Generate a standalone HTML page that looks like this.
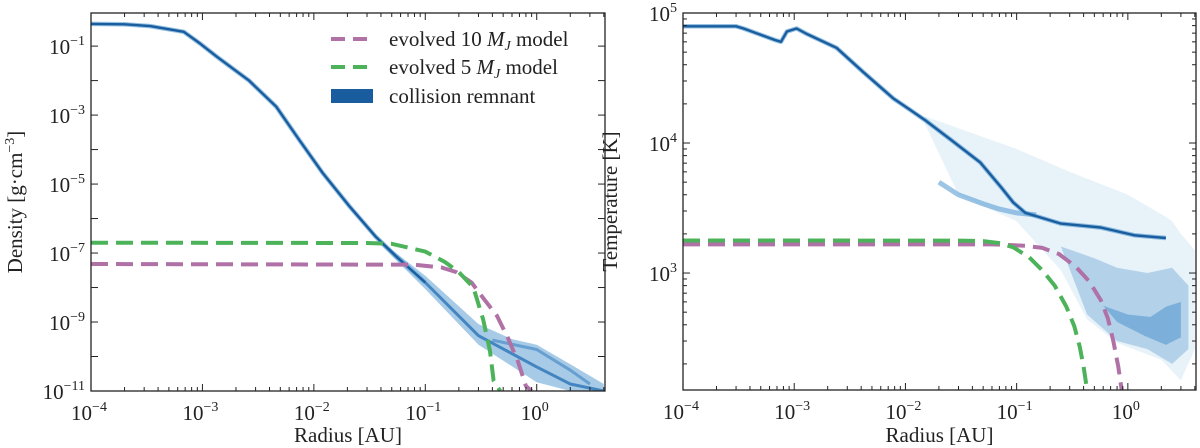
<!DOCTYPE html>
<html><head><meta charset="utf-8"><style>
html,body{margin:0;padding:0;background:#fff;}
svg{display:block;font-family:"Liberation Serif",serif;}
</style></head><body>
<svg id="fig" width="1200" height="448" viewBox="0 0 1200 448"></svg>
<script>
// ---- data (x in AU, y in physical units) ----
const remDensR = [1e-4,2e-4,3.4e-4,6.8e-4,9.5e-4,1.35e-3,2.6e-3,4.6e-3,7.4e-3,1.2e-2,2.1e-2,3.6e-2,5.5e-2,0.1];
const remDensV = [0.44,0.43,0.38,0.26,0.12,0.049,0.0102,1.74e-3,1.9e-4,2.1e-5,2.2e-6,2.95e-7,7.9e-8,1.4e-8];
const dBandR = [0.04,0.1,0.3,0.6,1,2,4,4,2,1,0.3,0.1,0.04];
const dBandV = [2.2e-7,2.2e-8,8.7e-10,3.2e-10,2.2e-10,6e-11,1.6e-11,1e-11,1e-11,1.8e-11,2.2e-10,9e-9,1.7e-7];
const dCoreR = [0.1,0.3,1,2,4];
const dCoreV = [1.4e-8,4e-10,5e-11,1.6e-11,1e-11];
const dCore2R = [0.4,1,2,3];
const dCore2V = [3e-10,1.6e-10,4e-11,1.6e-11];
const m10R = [1e-4,0.08,0.14,0.19,0.26,0.33,0.44,0.55,0.68,0.8,0.9];
const m10D = [4.8e-8,4.6e-8,3.8e-8,2.8e-8,1.4e-8,5e-9,1.5e-9,3.5e-10,7e-11,1.4e-11,1e-11];
const m5R = [1e-4,0.03,0.05,0.1,0.15,0.2,0.27,0.33,0.38,0.41,0.47];
const m5D = [2e-7,1.95e-7,1.85e-7,1.1e-7,5.5e-8,2.8e-8,1e-8,1.2e-9,1.5e-10,2e-11,1e-11];
const remTR = [1e-4,3e-4,3.5e-4,6.7e-4,7.6e-4,8.6e-4,1.05e-3,1.3e-3,2.4e-3,4.2e-3,7.8e-3,1.1e-2,1.5e-2,2.6e-2,4.7e-2,7.2e-2,9.3e-2,0.12,0.25,0.57,1.15,2.2];
const remTV = [79000,79000,76000,62000,60000,72000,76000,69000,54000,35000,22000,18000,15000,10500,7100,4600,3500,2900,2400,2240,1950,1860];
const tBranchR = [0.02,0.03,0.05,0.07,0.1,0.15];
const tBranchV = [5000,4000,3400,3100,2900,2800];
const tBandR = [0.015,0.03,0.1,0.3,1,2.2,2.5,3,4,4,3,2,0.8,0.43,0.25,0.1,0.03,0.015];
const tBandV = [16000,13000,9000,6000,4000,2700,2500,2000,1500,260,150,215,290,440,1050,2500,4000,14000];
const tLobeR = [0.25,0.5,0.8,1.5,2.5,3.5,3.5,2.5,1.5,0.8,0.43];
const tLobeV = [1600,1300,1100,1000,1100,800,260,200,260,300,480];
const tCoreR = [0.6,1,1.6,2.2,3,3,2.2,1.4,0.8];
const tCoreV = [560,480,460,550,600,320,280,330,420];
const m10TR = [1e-4,0.06,0.09,0.12,0.17,0.24,0.34,0.45,0.57,0.66,0.74,0.82,0.88];
const m10T = [1660,1660,1640,1620,1560,1400,1120,860,620,450,300,190,126];
const m5TR = [1e-4,0.03,0.05,0.07,0.093,0.13,0.17,0.22,0.28,0.33,0.37,0.4,0.43];
const m5T = [1780,1775,1760,1700,1580,1320,1050,800,550,390,270,190,126];
const xTickExp = [-4,-3,-2,-1,0];
const dTickExp = [-11,-9,-7,-5,-3,-1];
const tTickExp = [3,4,5];

const NS="http://www.w3.org/2000/svg";
const svg=document.getElementById('fig');
function mk(tag,attrs,parent){const e=document.createElementNS(NS,tag);for(const k in attrs)e.setAttribute(k,attrs[k]);(parent||svg).appendChild(e);return e;}

function panel(o){
  const g=mk('g',{});
  
  
  const X=v=>o.x0+(Math.log10(v)-o.lx0)/(o.lx1-o.lx0)*(o.x1-o.x0);
  const Y=v=>o.y1-(Math.log10(v)-o.ly0)/(o.ly1-o.ly0)*(o.y1-o.y0);
  const cid='clip'+o.id;
  const cp=mk('clipPath',{id:cid},g);mk('rect',{x:o.x0,y:o.y0,width:o.x1-o.x0,height:o.y1-o.y0},cp);
  const pg=mk('g',{'clip-path':'url(#'+cid+')'},g);
  return {g,pg,X,Y,o};
}
function pts(P,R,V){return R.map((r,i)=>P.X(r).toFixed(1)+','+P.Y(V[i]).toFixed(1)).join(' ');}
function poly(P,R,V,fill,op,name){const e=mk('polygon',{points:pts(P,R,V),fill:fill,'fill-opacity':op,stroke:'none','stroke-linejoin':'round'},P.pg);return e;}
function line(P,R,V,stroke,w,dash,name,op){const e=mk('polyline',{points:pts(P,R,V),fill:'none',stroke:stroke,'stroke-width':w,'stroke-dasharray':dash||'none','stroke-linejoin':'round','stroke-opacity':op||1},P.pg);return e;}
function axes(P,yExp,yMinor,ylabel){
  const o=P.o,g=P.g;
  const fr=mk('rect',{x:o.x0,y:o.y0,width:o.x1-o.x0,height:o.y1-o.y0,fill:'none',stroke:'#222','stroke-width':1.3},g);
  
  for(let e=o.lx0;e<=Math.ceil(o.lx1);e++){
    for(let m=1;m<10;m++){const v=m*Math.pow(10,e);const lv=Math.log10(v);if(lv<o.lx0-1e-9||lv>o.lx1)continue;
      const x=P.X(v),L=m==1?7:4;
      mk('line',{x1:x,x2:x,y1:o.y1,y2:o.y1-L,stroke:'#222','stroke-width':1},g);
      mk('line',{x1:x,x2:x,y1:o.y0,y2:o.y0+L,stroke:'#222','stroke-width':1},g);}
  }
  xTickExp.forEach(e=>{const t=mk('text',{x:P.X(Math.pow(10,e))-2,y:o.y1+29,'font-size':21,'text-anchor':'middle',fill:'#222'},g);
    
    t.textContent='10';const s=mk('tspan',{'font-size':14,dy:-9},t);s.textContent=e<0?'−'+(-e):''+e;});
  for(let e=Math.floor(o.ly0);e<=Math.ceil(o.ly1);e++){
    const ms=yMinor?[1,2,3,4,5,6,7,8,9]:[1];
    ms.forEach(m=>{const v=m*Math.pow(10,e);const lv=Math.log10(v);if(lv<o.ly0-1e-9||lv>o.ly1+1e-9)return;
      const y=P.Y(v),L=m==1?7:4;
      mk('line',{x1:o.x0,x2:o.x0+L,y1:y,y2:y,stroke:'#222','stroke-width':1},g);
      mk('line',{x1:o.x1,x2:o.x1-L,y1:y,y2:y,stroke:'#222','stroke-width':1},g);});
  }
  yExp.forEach(e=>{const y=P.Y(Math.pow(10,e));const t=mk('text',{x:o.x0-6,y:y+8,'font-size':21,'text-anchor':'end',fill:'#222'},g);
    
    t.textContent='10';const s=mk('tspan',{'font-size':14,dy:-9},t);s.textContent=e<0?'−'+(-e):''+e;});
  const xl=mk('text',{x:(o.x0+o.x1)/2,y:442,'font-size':21,'text-anchor':'middle',fill:'#222'},g);
  xl.textContent='Radius [AU]';
  const yl=mk('text',{x:0,y:0,'font-size':21,'text-anchor':'middle',fill:'#222',transform:'translate('+o.ylx+','+((o.y0+o.y1)/2)+') rotate(-90)'},g);
  
  ylabel(yl);
}
const BL='#1a5d9f',LB='#4f98cf',PU='#b072a6',GR='#4cb35a';
const DASH='17,8';

// Left panel
const L=panel({id:'L',name:'density-panel',x0:91,x1:605,y0:13,y1:391,lx0:-4,lx1:Math.log10(4.1),ly0:-11,ly1:-0.04,ylx:22});
poly(L,dBandR,dBandV,LB,0.5,'density-scatter-band');
line(L,dCoreR,dCoreV,'#2a73b8',3,null,'density-core-track',0.8);
line(L,dCore2R,dCore2V,'#3a82c2',3,null,'density-upper-track',0.6);
line(L,remDensR,remDensV,LB,4.5,null,'density-remnant-halo',0.6);
line(L,remDensR,remDensV,BL,2.4,null,'density-remnant-line');
line(L,m10R,m10D,PU,4,DASH,'density-10mj-model');
line(L,m5R,m5D,GR,4,DASH,'density-5mj-model');
axes(L,dTickExp,false,t=>{t.textContent='Density [g·cm';const s=mk('tspan',{'font-size':14,dy:-8},t);s.textContent='−3';const s2=mk('tspan',{dy:8},t);s2.textContent=']';});
// legend
const lg=mk('g',{});
[[PU,'evolved 10 ','model',39],[GR,'evolved 5 ','model',67]].forEach(r=>{
  mk('line',{x1:331,x2:372,y1:r[3],y2:r[3],stroke:r[0],'stroke-width':4,'stroke-dasharray':'14,8'},lg);
  const t=mk('text',{x:389,y:r[3]+7,'font-size':21,fill:'#222'},lg);
  t.textContent=r[1];const i=mk('tspan',{'font-style':'italic'},t);i.textContent='M';const j=mk('tspan',{'font-style':'italic','font-size':14,dy:4},t);j.textContent='J';const k=mk('tspan',{dy:-4},t);k.textContent=' '+r[2];});
mk('rect',{x:331,y:89,width:42,height:14,fill:'#1a5d9f'},lg);
const lt=mk('text',{x:389,y:103,'font-size':21,fill:'#222'},lg);lt.textContent='collision remnant';

// Right panel
const R=panel({id:'R',name:'temperature-panel',x0:683,x1:1196,y0:13,y1:390,lx0:-4,lx1:Math.log10(4.1),ly0:Math.log10(126),ly1:5,ylx:617});
poly(R,tBandR,tBandV,LB,0.13,'temperature-scatter-band');
poly(R,tLobeR,tLobeV,LB,0.35,'temperature-dense-lobe');
poly(R,tCoreR,tCoreV,'#3a86c6',0.45,'temperature-dense-core');
line(R,tBranchR,tBranchV,'#5a9fd3',5,null,'temperature-lower-branch',0.6);
line(R,remTR,remTV,LB,4.5,null,'temperature-remnant-halo',0.6);
line(R,remTR,remTV,BL,2.4,null,'temperature-remnant-line');
line(R,m10TR,m10T,PU,4,DASH,'temperature-10mj-model');
line(R,m5TR,m5T,GR,4,DASH,'temperature-5mj-model');
axes(R,tTickExp,true,t=>{t.textContent='Temperature [K]';});
</script>
</body></html>
